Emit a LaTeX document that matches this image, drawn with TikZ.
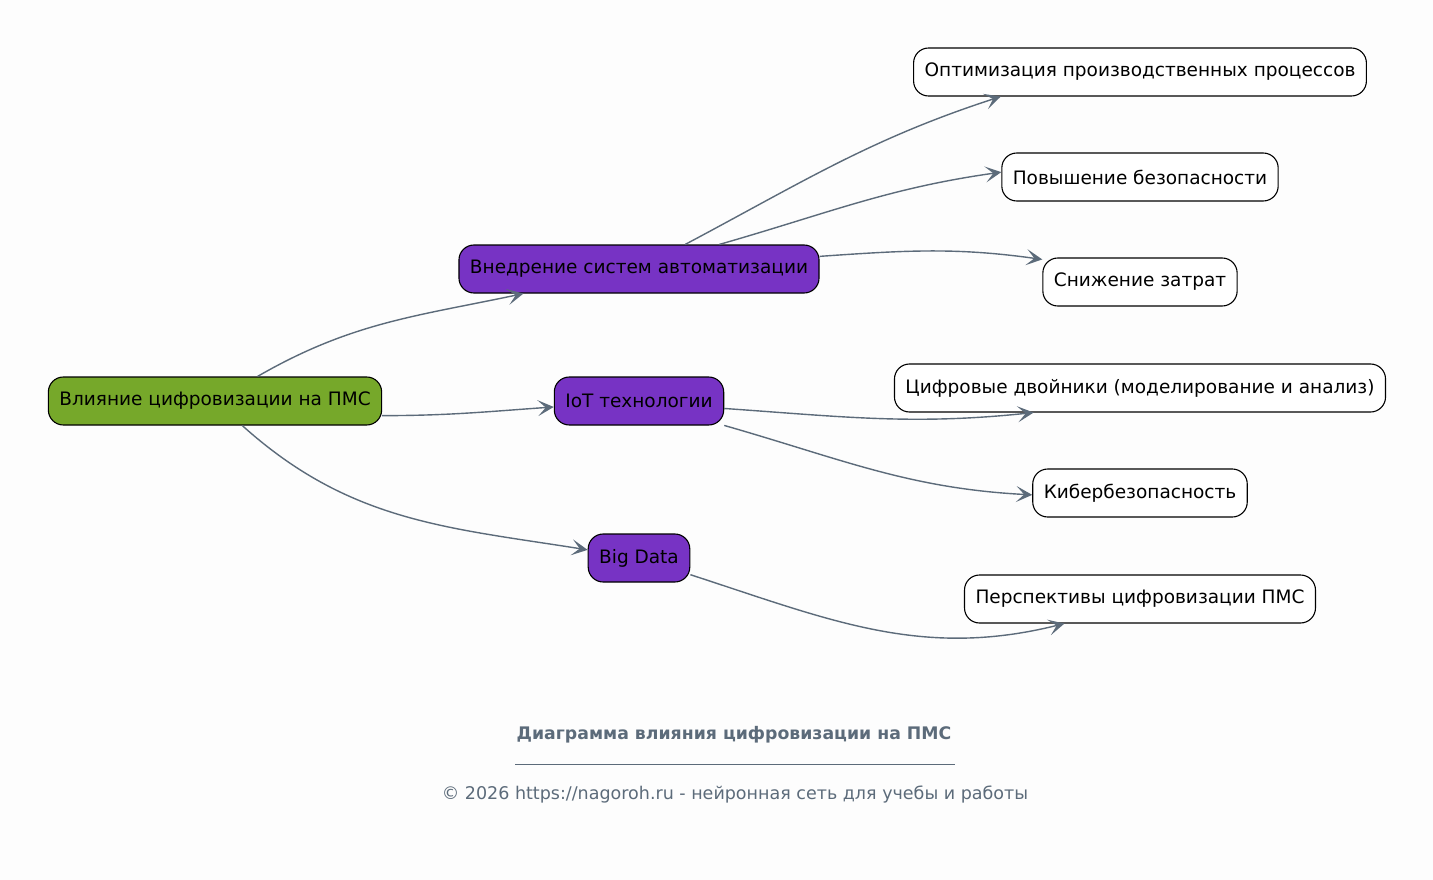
\documentclass[tikz,border=0pt]{standalone}
\usepackage{fontspec}
\setmainfont{DejaVu Sans}
\usetikzlibrary{arrows.meta}
\definecolor{bgcol}{HTML}{FDFDFD}
\definecolor{rootcol}{HTML}{76A82A}
\definecolor{midcol}{HTML}{7733C4}
\definecolor{edgecol}{HTML}{5C6B7A}

\begin{document}
\begin{tikzpicture}[x=1pt, y=-1pt,
        box/.style={draw=black, line width=1.1pt, rounded corners=15pt, minimum height=48pt,
            inner xsep=11pt, inner ysep=0pt, font=\fontsize{18.5}{22}\selectfont, text=black},
        rootbox/.style={box, fill=rootcol},
        midbox/.style={box, fill=midcol},
        leafbox/.style={box, fill=white},
        edge/.style={draw=edgecol, line width=1.4pt, -{Stealth[length=16pt, width=16pt, inset=8pt]}}]
    \fill[bgcol] (0,0) rectangle (1433,880);
    \useasboundingbox (0,0) rectangle (1433,880);

    % main nodes
    \node[rootbox] (root) at (215,401) {Влияние цифровизации на ПМС};
    \node[midbox] (auto) at (639,269) {Внедрение систем автоматизации};
    \node[midbox] (iot) at (639,401) {IoT технологии};
    \node[midbox] (big) at (639,558) {Big Data};

    % outcomes
    \foreach \name/\y/\txt in {opt/72/{Оптимизация производственных процессов},
            safe/177/{Повышение безопасности}, cost/282/{Снижение затрат},
            twin/388/{Цифровые двойники (моделирование и анализ)},
            cyber/493/{Кибербезопасность}, persp/599/{Перспективы цифровизации ПМС}} {
        \node[leafbox] (\name) at (1140,\y) {\txt};
    }

    % links
    \draw[edge] (root.30) to[out=30, in=192] (auto.192);
    \draw[edge] (root.-5) to[out=0, in=184] (iot.184);
    \draw[edge] (root.-42) to[out=-42, in=171] (big.171);
    \draw[edge] (auto.28) to[out=28, in=198] (opt.190);
    \draw[edge] (auto.17) to[out=16, in=188] (safe.178);
    \draw[edge] (auto.4) to[out=4, in=172] (cost.167);
    \draw[edge] (iot.-5) to[out=-4, in=186] (twin.193);
    \draw[edge] (iot.-16) to[out=-16, in=177] (cyber.181);
    \draw[edge] (big.-18) to[out=-18, in=194] (persp.198);

    % footer
    \node[text=edgecol, font=\bfseries\fontsize{17.3}{20}\selectfont] (title) at (734,735) {Диаграмма влияния цифровизации на ПМС};
    \draw[edgecol, line width=0.8pt] (515,764) -- (955,764);
    \node[text=edgecol, font=\fontsize{17.5}{20}\selectfont] (copy) at (735,795) {© 2026 https://nagoroh.ru - нейронная сеть для учебы и работы};
\end{tikzpicture}
\end{document}
